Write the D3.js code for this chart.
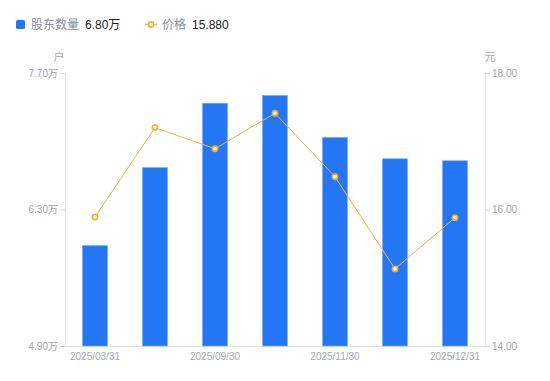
<!DOCTYPE html>
<html>
<head>
<meta charset="utf-8">
<script src="https://cdn.jsdelivr.net/npm/d3@7"></script>
<style>
  body { margin: 0; background: #fff; }
  text { font-family: "Liberation Sans", Arial, "Noto Sans CJK SC", sans-serif; }
</style>
</head>
<body>
<div id="chart"></div>
<script>
// 데이터
const dates = ["2025/03/31", "2025/06/30", "2025/09/30", "2025/10/31", "2025/11/30", "2025/12/15", "2025/12/31"];
const holders = [5.93, 6.73, 7.39, 7.47, 7.04, 6.82, 6.80]; // 万户
const prices = [15.89, 17.20, 16.89, 17.41, 16.48, 15.13, 15.88]; // 元
const leftTicks = [4.90, 6.30, 7.70];
const rightTicks = [14, 16, 18];

const W = 550, H = 381;
const margin = { top: 73, right: 65, bottom: 35, left: 65 };
const width = W - margin.left - margin.right;
const height = H - margin.top - margin.bottom;

const svg = d3.select("#chart").append("svg")
  .attr("width", W)
  .attr("height", H);

const g = svg.append("g")
  .attr("transform", `translate(${margin.left},${margin.top})`);

// 스케일
const x = d3.scaleBand().domain(dates).range([0, width]);
const yL = d3.scaleLinear().domain([4.90, 7.70]).range([height, 0]);
const yR = d3.scaleLinear().domain([14, 18]).range([height, 0]);

const grey = "#a3a6b4";

// 왼쪽 축
const axL = g.append("g")
  .call(d3.axisLeft(yL).tickValues(leftTicks).tickSize(5).tickPadding(2).tickFormat(d => d.toFixed(2) + "万"));
axL.select(".domain").attr("stroke", "#e3e3e3");
axL.selectAll(".tick line").attr("stroke", "#d8d8d8");
axL.selectAll(".tick text").attr("fill", grey).attr("font-size", 10);

// 오른쪽 축
const axR = g.append("g")
  .attr("transform", `translate(${width},0)`)
  .call(d3.axisRight(yR).tickValues(rightTicks).tickSize(5).tickPadding(2).tickFormat(d => d.toFixed(2)));
axR.select(".domain").attr("stroke", "#e3e3e3");
axR.selectAll(".tick line").attr("stroke", "#d8d8d8");
axR.selectAll(".tick text").attr("fill", grey).attr("font-size", 10);

// x축
const axX = g.append("g")
  .attr("transform", `translate(0,${height})`)
  .call(d3.axisBottom(x).tickSize(0).tickPadding(7).tickFormat((d, i) => i % 2 === 0 ? d : ""));
axX.select(".domain").attr("stroke", "#e3e3e3");
axX.selectAll(".tick text").attr("fill", grey).attr("font-size", 10);

// 막대
const bw = 25;
g.selectAll(".bar")
  .data(holders)
  .enter().append("rect")
  .attr("class", "bar")
  .attr("x", (d, i) => x(dates[i]) + x.bandwidth() / 2 - bw / 2)
  .attr("y", d => yL(d))
  .attr("width", bw)
  .attr("height", d => height - yL(d))
  .attr("fill", "#2477f4")
  .attr("stroke", "#7eabf7")
  .attr("stroke-width", 0.6);

// 선
const line = d3.line()
  .x((d, i) => x(dates[i]) + x.bandwidth() / 2)
  .y(d => yR(d));

g.append("path")
  .datum(prices)
  .attr("fill", "none")
  .attr("stroke", "#f9b33e")
  .attr("stroke-width", 1)
  .attr("d", line);

g.selectAll(".dot")
  .data(prices)
  .enter().append("circle")
  .attr("class", "dot")
  .attr("cx", (d, i) => x(dates[i]) + x.bandwidth() / 2)
  .attr("cy", d => yR(d))
  .attr("r", 2.6)
  .attr("fill", "#fff")
  .attr("stroke", "#f7ac2c")
  .attr("stroke-width", 1.6);

// 단위
svg.append("text").attr("x", 59).attr("y", 61).attr("text-anchor", "middle")
  .attr("font-size", 11).attr("fill", grey).text("户");
svg.append("text").attr("x", 490).attr("y", 61).attr("text-anchor", "middle")
  .attr("font-size", 11).attr("fill", grey).text("元");

// 범례
const leg = svg.append("g");
leg.append("rect").attr("x", 16).attr("y", 20).attr("width", 9).attr("height", 9)
  .attr("rx", 1.5).attr("fill", "#2477f4");
leg.append("text").attr("x", 31).attr("y", 29).attr("font-size", 12).attr("fill", "#888b99").text("股东数量");
leg.append("text").attr("x", 85).attr("y", 29).attr("font-size", 12).attr("fill", "#222").text(holders[holders.length - 1].toFixed(2) + "万");

leg.append("line").attr("x1", 145).attr("x2", 157).attr("y1", 24.5).attr("y2", 24.5)
  .attr("stroke", "#f9b33e").attr("stroke-width", 1.5);
leg.append("circle").attr("cx", 151).attr("cy", 24.5).attr("r", 2.6)
  .attr("fill", "#fff").attr("stroke", "#f7ac2c").attr("stroke-width", 1.6);
leg.append("text").attr("x", 162).attr("y", 29).attr("font-size", 12).attr("fill", "#888b99").text("价格");
leg.append("text").attr("x", 192).attr("y", 29).attr("font-size", 12).attr("fill", "#222").text("15.880");
</script>
</body>
</html>
